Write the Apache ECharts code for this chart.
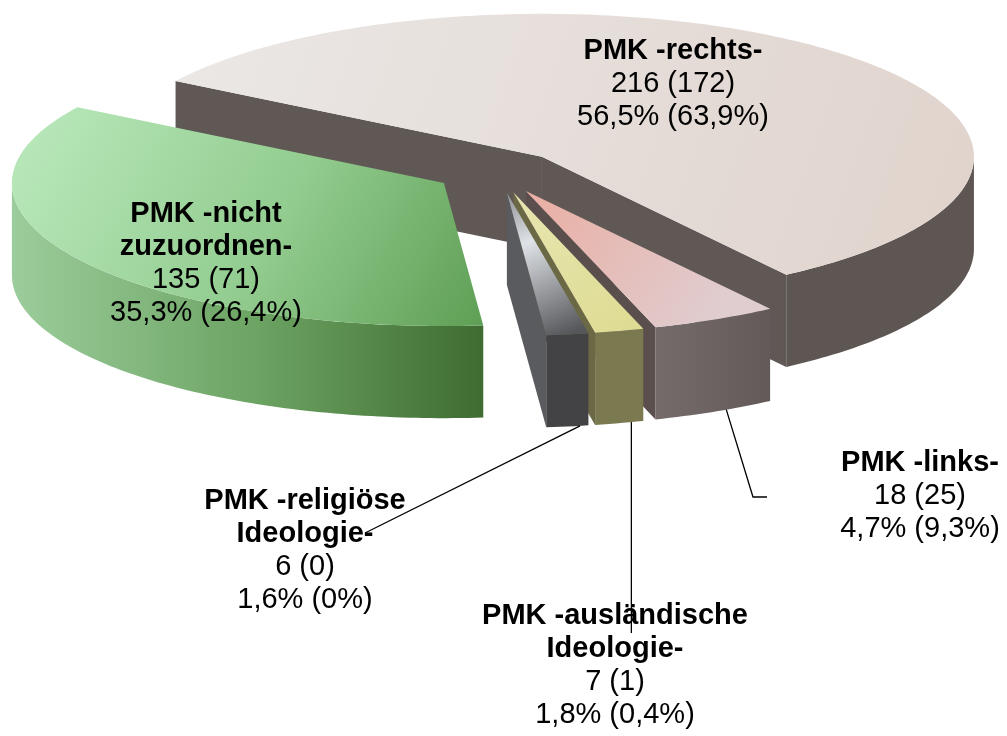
<!DOCTYPE html>
<html>
<head>
<meta charset="utf-8">
<script src="https://cdn.jsdelivr.net/npm/echarts@6/dist/echarts.min.js"></script>
<style>
html, body { margin: 0; background: #fff; }
#main { width: 1007px; height: 736px; }
</style>
</head>
<body>
<div id="main"></div>
<script>
// PMK Fälle: aktuelles Jahr, in Klammern Vorjahr
var categories = ['PMK -rechts-', 'PMK -links-', 'PMK -ausländische\nIdeologie-', 'PMK -religiöse\nIdeologie-', 'PMK -nicht\nzuzuordnen-'];
var cases = [216, 18, 7, 6, 135];
var casesPrev = [172, 25, 1, 0, 71];

// look of the fake 3d pie
var startAngle = 212;          // deg, clockwise on screen, 90 = front
var view = {cx: 498, cy: 172, r: 432, tilt: 0.331, depth: 0.226, explode: 0.147};
var labelPos = [[673, 34], [920, 446], [615, 599], [305, 484], [206, 197]];
var FONT = '"Liberation Sans", Arial, sans-serif';

var sinT = view.tilt, cosT = Math.sqrt(1 - sinT * sinT);
var G = echarts.graphic.LinearGradient;

function sum(a) { return a.reduce(function (s, v) { return s + v; }, 0); }
function pct(v, list) {
    if (v === 0) return '0%';
    return (v / sum(list) * 100).toFixed(1).replace('.', ',') + '%';
}

var total = sum(cases);
var slices = [];
var acc = startAngle;
cases.forEach(function (v) {
    var span = v / total * 360;
    slices.push({a0: acc, a1: acc + span});
    acc += span;
});

function rad(d) { return d * Math.PI / 180; }
function proj(x, y, z) {
    return [view.cx + view.r * x, view.cy + view.r * (z * sinT - y * cosT)];
}

function topFill(i, apex, outer) {
    switch (i) {
        case 0: return new G(170, 20, 960, 300, [{offset: 0, color: '#ebe8e6'}, {offset: 1, color: '#e0d3cc'}], true);
        case 1: return new G(apex[0], apex[1], outer[0], outer[1], [{offset: 0, color: '#eaaea2'}, {offset: 1, color: '#e0cdd0'}], true);
        case 2: return new G(apex[0], apex[1], outer[0], outer[1], [{offset: 0, color: '#e8e6b0'}, {offset: 1, color: '#dedc94'}], true);
        case 3: return new G(apex[0], apex[1], outer[0], outer[1], [{offset: 0, color: '#8e9094'}, {offset: 0.35, color: '#dfe2e6'}, {offset: 1, color: '#55575b'}], true);
        default: return new G(60, 100, 500, 340, [{offset: 0, color: '#b6e6b8'}, {offset: 0.5, color: '#92cc8f'}, {offset: 1, color: '#5a9a4f'}], true);
    }
}
function sideFill(i) {
    switch (i) {
        case 0: return '#5e5652';
        case 1: return new G(650, 0, 780, 0, [{offset: 0, color: '#766c6b'}, {offset: 1, color: '#625857'}], true);
        case 2: return '#7b7950';
        case 3: return '#434345';
        default: return new G(15, 0, 495, 0, [{offset: 0, color: '#9bcc9b'}, {offset: 0.5, color: '#6ca463'}, {offset: 1, color: '#3d692e'}], true);
    }
}
var cutColors = ['#5f5854', '#5b4f4e', '#6b6945', '#5a5b5e', '#5d8f55'];

function renderItem(params, api) {
    var i = params.dataIndex;
    var s = slices[i];
    var mid = rad((s.a0 + s.a1) / 2);
    var ox = view.explode * Math.cos(mid), oz = view.explode * Math.sin(mid);
    var h = -view.depth;
    function pt(deg, r, y) {
        var t = rad(deg);
        return proj(ox + r * Math.cos(t), y, oz + r * Math.sin(t));
    }
    function arc(d0, d1, y) {
        var pts = [], n = Math.max(2, Math.ceil(Math.abs(d1 - d0)));
        for (var k = 0; k <= n; k++) pts.push(pt(d0 + (d1 - d0) * k / n, 1, y));
        return pts;
    }
    var children = [];
    var apexTop = pt(0, 0, 0), apexBot = pt(0, 0, h);

    // radial cut faces
    if (Math.sin(rad(s.a0 - 90)) > 0) {
        children.push({type: 'polygon', shape: {points: [apexTop, pt(s.a0, 1, 0), pt(s.a0, 1, h), apexBot]},
            style: {fill: cutColors[i]}});
    }
    if (Math.sin(rad(s.a1 + 90)) > 0) {
        children.push({type: 'polygon', shape: {points: [pt(s.a1, 1, 0), apexTop, apexBot, pt(s.a1, 1, h)]},
            style: {fill: cutColors[i]}});
    }
    // outer wall, only the part facing front
    for (var k = Math.floor(s.a0 / 360) - 1; k <= Math.floor(s.a1 / 360) + 1; k++) {
        var lo = Math.max(s.a0, k * 360), hi = Math.min(s.a1, k * 360 + 180);
        if (hi - lo > 0.01) {
            var pts = arc(lo, hi, 0).concat(arc(hi, lo, h));
            children.push({type: 'polygon', shape: {points: pts}, style: {fill: sideFill(i)}});
        }
    }
    // top face
    var outerMid = pt((s.a0 + s.a1) / 2, 1, 0);
    children.push({type: 'polygon', shape: {points: [apexTop].concat(arc(s.a0, s.a1, 0))},
        style: {fill: topFill(i, apexTop, outerMid)}});

    // leader lines for the small slices
    var leader = null;
    if (i === 1) leader = [pt(s.a0 + 0.4 * (s.a1 - s.a0), 1, h), [753, 497], [767, 497]];
    if (i === 2) {
        var a2 = pt(s.a0 + 0.25 * (s.a1 - s.a0), 1, h);
        leader = [a2, [a2[0], 633]];
    }
    if (i === 3) leader = [pt(s.a0 + 0.2 * (s.a1 - s.a0), 1, h), [365, 533]];
    if (leader) {
        children.push({type: 'polyline', z2: 90, shape: {points: leader},
            style: {stroke: '#000', lineWidth: 1.3, fill: null}});
    }

    // label
    var lines = categories[i].split('\n').map(function (l) { return '{b|' + l + '}'; });
    lines.push('{n|' + api.value(0) + ' (' + casesPrev[i] + ')}');
    lines.push('{n|' + pct(cases[i], cases) + ' (' + pct(casesPrev[i], casesPrev) + ')}');
    children.push({
        type: 'text', z2: 100, x: labelPos[i][0], y: labelPos[i][1],
        style: {
            text: lines.join('\n'), align: 'center', verticalAlign: 'top',
            rich: {
                b: {fontFamily: FONT, fontSize: 29, fontWeight: 'bold', lineHeight: 33, fill: '#000', align: 'center'},
                n: {fontFamily: FONT, fontSize: 29, lineHeight: 33, fill: '#000', align: 'center'}
            }
        }
    });
    return {type: 'group', children: children};
}

var myChart = echarts.init(document.getElementById('main'));
myChart.setOption({
    backgroundColor: '#fff',
    animation: false,
    series: [{
        type: 'custom',
        coordinateSystem: 'none',
        silent: true,
        data: cases.map(function (v, i) { return {name: categories[i], value: [v]}; }),
        renderItem: renderItem
    }]
});
</script>
</body>
</html>
